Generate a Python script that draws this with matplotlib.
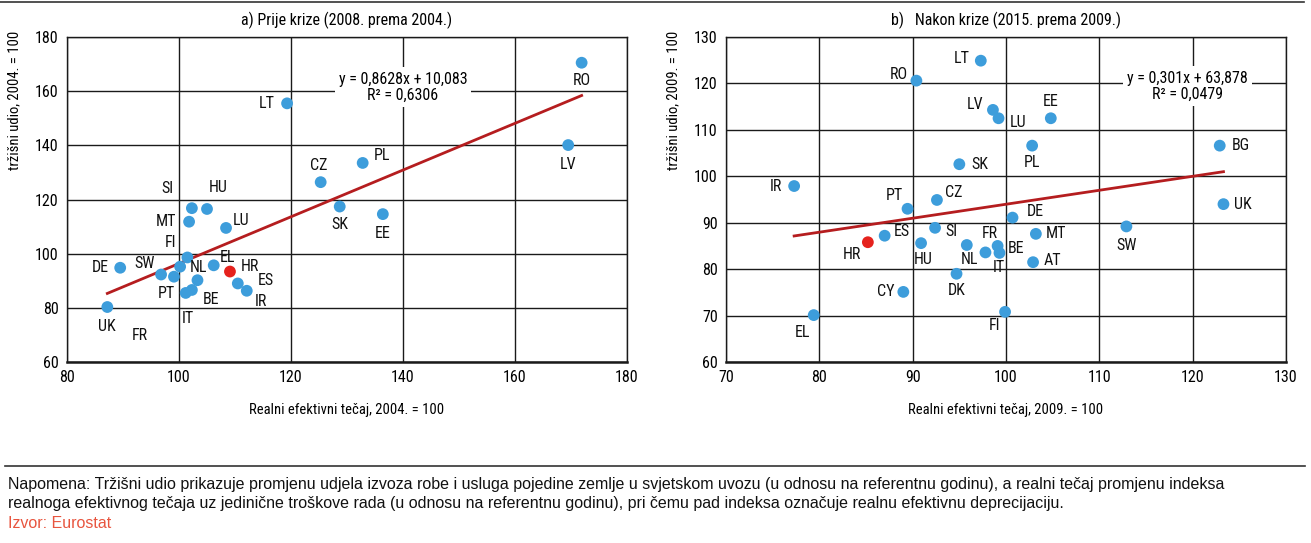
import matplotlib
matplotlib.use("Agg")
import matplotlib.pyplot as plt
from matplotlib import font_manager

# ---- data: (a) 2008 vs 2004 ----
codes_a = ['RO', 'LT', 'LV', 'PL', 'CZ', 'SK', 'EE', 'SI', 'HU', 'MT', 'LU', 'FI',
           'DE', 'SW', 'PT', 'NL', 'FR', 'EL', 'HR', 'ES', 'IR', 'BE', 'IT', 'UK']
rer_a = [171.9, 119.3, 169.5, 132.8, 125.3, 128.7, 136.4, 102.3, 105.0, 101.8, 108.4, 101.5,
         89.5, 96.8, 99.1, 100.2, 103.3, 106.2, 109.1, 110.5, 112.1, 102.3, 101.2, 87.2]
share_a = [170.5, 155.5, 140.1, 133.5, 126.4, 117.4, 114.6, 116.8, 116.5, 111.8, 109.5, 98.6,
           94.8, 92.3, 91.5, 95.2, 90.2, 95.7, 93.4, 89.0, 86.3, 86.6, 85.5, 80.3]
fit_a = (0.8628, 10.083)
eq_a = ["y = 0,8628x + 10,083", "R² = 0,6306"]

# ---- data: (b) 2015 vs 2009 ----
codes_b = ['LT', 'RO', 'LV', 'LU', 'EE', 'PL', 'BG', 'SK', 'IR', 'PT', 'CZ', 'UK', 'DE', 'SW',
           'ES', 'HR', 'SI', 'HU', 'NL', 'FR', 'BE', 'IT', 'MT', 'AT', 'DK', 'CY', 'EL', 'FI']
rer_b = [97.3, 90.4, 98.6, 99.2, 104.8, 102.8, 122.9, 95.0, 77.3, 89.45, 92.6, 123.3, 100.7, 112.9,
         87.0, 85.2, 92.4, 90.9, 95.8, 99.1, 99.3, 97.8, 103.2, 102.9, 94.7, 89.0, 79.4, 99.9]
share_b = [124.9, 120.6, 114.3, 112.5, 112.5, 106.6, 106.6, 102.6, 97.9, 93.0, 94.9, 94.0, 91.1, 89.2,
           87.2, 85.8, 88.9, 85.6, 85.2, 85.0, 83.5, 83.6, 87.6, 81.5, 79.0, 75.1, 70.1, 70.8]
fit_b = (0.301, 63.878)
eq_b = ["y = 0,301x + 63,878", "R² = 0,0479"]

# label offsets in pixels (right, down)
offs_a = {'SI': (-24, -20), 'HU': (11, -21), 'MT': (-23, 0), 'LU': (15, -7), 'FI': (-17, -15),
          'DE': (-20, 0), 'SW': (-16, -11), 'NL': (18, 1), 'PT': (-8, 17), 'BE': (19, 10),
          'IT': (2, 26), 'EL': (14, -8), 'HR': (20, -5), 'ES': (28, -3), 'IR': (14, 11),
          'UK': (0, 19), 'FR': (-58, 55), 'SK': (0, 18), 'EE': (0, 19), 'CZ': (-2, -17),
          'LT': (-20, 0), 'PL': (19, -7), 'RO': (0, 18), 'LV': (0, 19)}
offs_b = {'LT': (-19, -2), 'RO': (-18, -6), 'LV': (-18, -5), 'LU': (20, 4), 'EE': (0, -17),
          'PL': (0, 17), 'BG': (21, 0), 'SK': (21, 0), 'IR': (-18, 0), 'PT': (-13, -13),
          'CZ': (17, -7), 'UK': (19, 0), 'DE': (23, -6), 'SW': (0, 19), 'ES': (17, -4),
          'HR': (-16, 12), 'SI': (16, 4), 'HU': (2, 16), 'NL': (3, 15), 'FR': (-8, -12),
          'BE': (17, -4), 'IT': (13, 15), 'MT': (20, 0), 'AT': (19, -2), 'DK': (0, 17),
          'CY': (-18, 0), 'EL': (-11, 17), 'FI': (-11, 14)}

# pick a narrow font if one is installed
names = {f.name for f in font_manager.fontManager.ttflist}
narrow = next((n for n in ['Roboto Condensed', 'Liberation Sans Narrow', 'Arial Narrow']
               if n in names), None)
if narrow:
    cfont = dict(family=narrow)
else:
    cfont = dict(family='Liberation Sans', stretch='condensed')
plt.rcParams['font.family'] = cfont['family']

BLUE = '#3d9ddb'
RED = '#e5221d'
LINE = '#b51d1f'
W, H = 1311, 543
FS = 11.5

fig = plt.figure(figsize=(W / 100, H / 100), dpi=100)


def panel(left, codes, xs, ys, fit, eq, eq_pos, xlim, ylim, step, offs, title, xlabel, ylabel,
          ylab_x):
    ax = fig.add_axes([left / W, 1 - 362 / H, 560 / W, 325 / H])
    ax.set_xlim(*xlim)
    ax.set_ylim(*ylim)
    ax.set_xticks(range(xlim[0], xlim[1] + 1, step[0]))
    ax.set_yticks(range(ylim[0], ylim[1] + 1, step[1]))
    ax.grid(True, color='#1a1a1a', lw=1.0)
    ax.set_axisbelow(True)
    ax.tick_params(length=0, labelsize=FS, pad=6)
    for s in ax.spines.values():
        s.set_color('#1a1a1a')
        s.set_linewidth(1.0)
    ax.spines['bottom'].set_linewidth(1.8)

    cols = [RED if c == 'HR' else BLUE for c in codes]
    ax.scatter(xs, ys, s=72, c=cols, zorder=4, linewidths=0)
    x0, x1 = min(xs), max(xs)
    ax.plot([x0, x1], [fit[0] * x0 + fit[1], fit[0] * x1 + fit[1]], color=LINE, lw=2.0, zorder=3)

    for c, x, y in zip(codes, xs, ys):
        dx, dy = offs[c]
        ax.annotate(c, (x, y), xytext=(dx * 0.72, -dy * 0.72), textcoords='offset points',
                    ha='center', va='center', fontsize=FS, color='#111111', zorder=5, **cfont)

    ax.text(eq_pos[0], eq_pos[1], eq[0] + "\n" + eq[1], ha='center', va='center', fontsize=FS,
            linespacing=1.1, zorder=5, **cfont,
            bbox=dict(facecolor='white', edgecolor='none', pad=3))

    cx = (left + 280) / W
    fig.text(cx, 1 - 20 / H, title, ha='center', va='center', fontsize=FS, **cfont)
    fig.text(cx, 1 - 410 / H, xlabel, ha='center', va='center', fontsize=10.5, **cfont)
    fig.text(ylab_x / W, 1 - 100 / H, ylabel, ha='center', va='center', rotation=90,
             fontsize=10.5, **cfont)
    return ax


panel(67, codes_a, rer_a, share_a, fit_a, eq_a, (140, 161.5), (80, 180), (60, 180), (20, 20),
      offs_a, "a) Prije krize (2008. prema 2004.)", "Realni efektivni tečaj, 2004. = 100",
      "tržišni udio, 2004. = 100", 14)
panel(726, codes_b, rer_b, share_b, fit_b, eq_b, (119.4, 119.4), (70, 130), (60, 130), (10, 10),
      offs_b, "b)   Nakon krize (2015. prema 2009.)", "Realni efektivni tečaj, 2009. = 100",
      "tržišni udio, 2009. = 100", 673)

# rules and notes
fig.add_artist(plt.Line2D([0, 1304 / W], [1 - 2 / H, 1 - 2 / H], color='#333333', lw=1.2))
fig.add_artist(plt.Line2D([5 / W, 1305 / W], [1 - 466 / H, 1 - 466 / H], color='#333333', lw=1.2))
note = ("Napomena: Tržišni udio prikazuje promjenu udjela izvoza robe i usluga pojedine zemlje u "
        "svjetskom uvozu (u odnosu na referentnu godinu), a realni tečaj promjenu indeksa\n"
        "realnoga efektivnog tečaja uz jedinične troškove rada (u odnosu na referentnu godinu), "
        "pri čemu pad indeksa označuje realnu efektivnu deprecijaciju.")
fig.text(8 / W, 1 - 494 / H, note, ha='left', va='center', fontsize=11.5, family='Liberation Sans',
         linespacing=1.3, color='#111111')
fig.text(8 / W, 1 - 523 / H, "Izvor: Eurostat", ha='left', va='center', fontsize=11.5,
         family='Liberation Sans', color='#e8553f')

fig.savefig('out.png', dpi=100)
